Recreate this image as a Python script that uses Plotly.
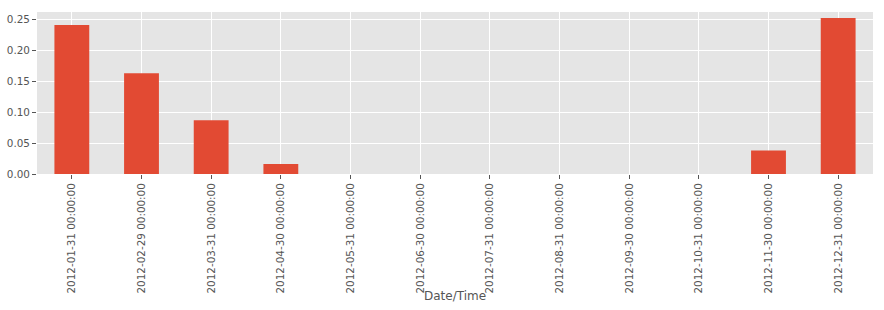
import plotly.graph_objects as go

categories = ["2012-01-31 00:00:00", "2012-02-29 00:00:00", "2012-03-31 00:00:00",
              "2012-04-30 00:00:00", "2012-05-31 00:00:00", "2012-06-30 00:00:00",
              "2012-07-31 00:00:00", "2012-08-31 00:00:00", "2012-09-30 00:00:00",
              "2012-10-31 00:00:00", "2012-11-30 00:00:00", "2012-12-31 00:00:00"]
values = [0.241, 0.163, 0.087, 0.016, 0, 0, 0, 0, 0, 0, 0.038, 0.252]
y_ticks = [0.0, 0.05, 0.10, 0.15, 0.20, 0.25]
x_title = "Date/Time"

fig = go.Figure(go.Bar(x=categories, y=values, marker_color="#E24A33",
                       marker_line_width=0, width=0.5))

font = dict(family="DejaVu Sans", size=10.4, color="#555555")
fig.update_layout(
    width=884, height=310,
    margin=dict(l=37, r=11, t=12, b=136),
    paper_bgcolor="white", plot_bgcolor="#E5E5E5",
    font=font, showlegend=False, bargap=0.5,
)
fig.add_annotation(text=x_title, xref="paper", yref="paper", x=0.5, y=-0.753,
                   xanchor="center", yanchor="middle", showarrow=False,
                   font=dict(family="DejaVu Sans", size=12, color="#555555"))
fig.update_xaxes(
    type="category", range=[-0.5, 11.5], tickangle=-90, automargin=False,
    showgrid=True, gridcolor="white", gridwidth=1,
    ticks="outside", ticklen=4, tickcolor="#555555", tickfont=font,
    showline=False, zeroline=False,
)
fig.update_yaxes(
    range=[0, 0.2619], tickvals=y_ticks, tickformat=".2f", automargin=False,
    showgrid=True, gridcolor="white", gridwidth=1,
    ticks="outside", ticklen=4, tickcolor="#555555", tickfont=font,
    zeroline=False, showline=False,
)
fig.write_html("out.html")
